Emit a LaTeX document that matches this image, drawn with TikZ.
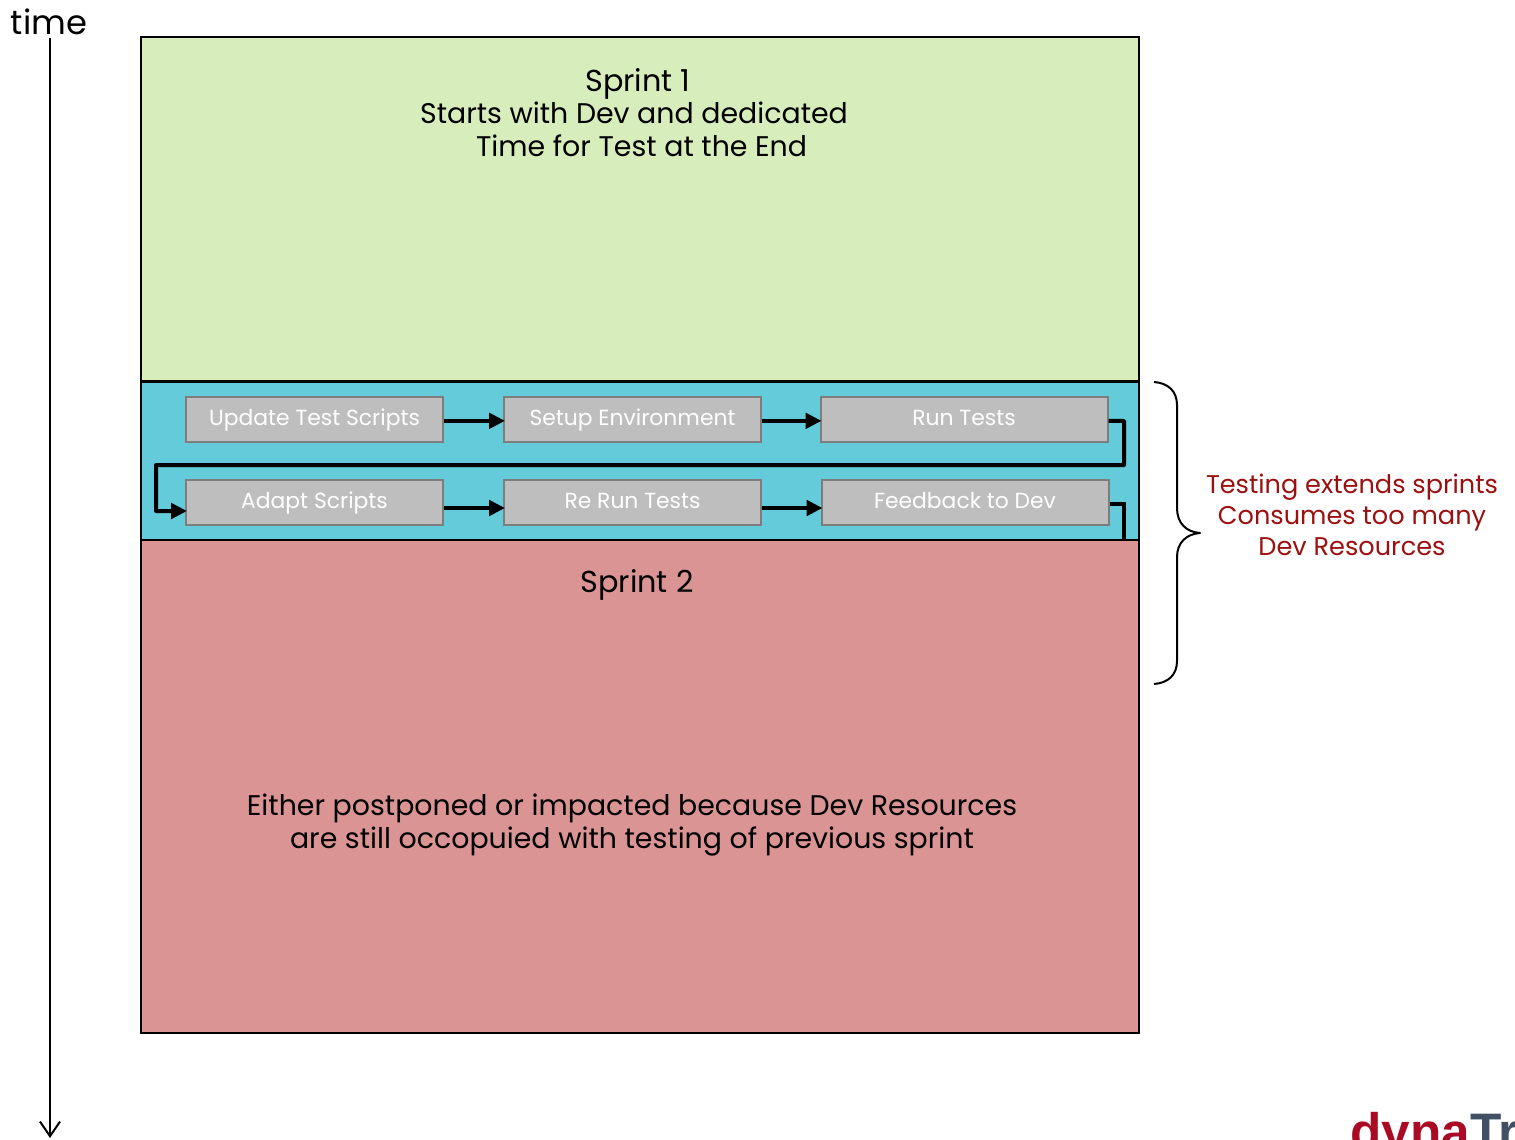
\documentclass[tikz,border=0pt]{standalone}
\usepackage{fontspec}
\setmainfont{Poppins}
\newfontfamily\logofont{Liberation Sans}
\usetikzlibrary{arrows.meta}
\definecolor{sprintgreen}{RGB}{215,238,188}
\definecolor{sprintred}{RGB}{218,148,148}
\definecolor{testblue}{RGB}{99,203,217}
\definecolor{stepgrey}{RGB}{190,190,190}
\definecolor{stepedge}{RGB}{125,125,125}
\definecolor{notered}{RGB}{155,16,16}
\definecolor{logored}{RGB}{170,10,35}
\definecolor{logoslate}{RGB}{65,80,100}
\tikzset{
  sprintbox/.style={draw=black,line width=1.5pt,inner sep=0pt,anchor=north west},
  stepbox/.style={draw=stepedge,line width=1.5pt,fill=stepgrey,text=white,inner sep=0pt,
    minimum height=33.75pt,text height=12.5pt,text depth=3.5pt,font=\fontsize{16.4}{18}\selectfont},
  flow/.style={line width=3pt,shorten >=-1.5pt,-{Triangle[length=12pt,width=11.5pt]}},
  flowend/.style={line width=3pt},
  sprinttext/.style={align=center,inner sep=0pt,font=\fontsize{21.3}{24.75}\selectfont},
  titletext/.style={inner sep=0pt,font=\fontsize{22.7}{24.75}\selectfont},
}
\begin{document}
\begin{tikzpicture}[x=0.75pt,y=0.75pt,yscale=-1,xscale=1]
\useasboundingbox (0,0) rectangle (1515,1139);
\clip (0,0) rectangle (1515,1139);

% Sprint areas
\node (sprint1) [sprintbox,fill=sprintgreen,minimum width=748.5pt,minimum height=258pt] at (140,36) {};
\node (sprint2) [sprintbox,fill=sprintred,minimum width=748.5pt,minimum height=369.75pt] at (140,539) {};
\node (testing) [sprintbox,fill=testblue,minimum width=748.5pt,minimum height=118.5pt] at (140,381) {};

% Text Node
\node (sprint1title) [titletext] at (638,84) {Sprint 1};
\node (sprint1text) [sprinttext] at (634,129) {Starts with Dev and dedicated\\\ \ Time for Test at the End};
\node (sprint2title) [titletext] at (637,585) {Sprint 2};
\node (sprint2text) [sprinttext] at (632,825) {Either postponed or impacted because Dev Resources\\are still occopuied with testing of previous sprint};

% Steps
\node (update) [stepbox,minimum width=192.75pt] at (314.5,419.5) {Update Test Scripts};
\node (setup) [stepbox,minimum width=192.75pt] at (632.5,419.5) {Setup Environment};
\node (run) [stepbox,minimum width=215.25pt] at (964,419.5) {Run Tests};
\node (adapt) [stepbox,minimum width=192.75pt] at (314.5,502) {Adapt Scripts};
\node (rerun) [stepbox,minimum width=192.75pt] at (632.5,502) {Re Run Tests};
\node (feedback) [stepbox,minimum width=215.25pt] at (965,502) {Feedback to Dev};

% Connectors
\draw [flow] ([yshift=1pt]update.east) -- ([yshift=1pt]setup.west);
\draw [flow] ([yshift=1pt]setup.east) -- ([yshift=1pt]run.west);
\draw [flow] ([yshift=4.5pt]adapt.east) -- ([yshift=4.5pt]rerun.west);
\draw [flow] ([yshift=4.5pt]rerun.east) -- ([yshift=4.5pt]feedback.west);
\draw [flow,line join=round] ([yshift=1pt]run.east) -- (1124,421) -- (1124,465) -- (156,465) -- (156,511) -- ([yshift=6.75pt]adapt.west);
\draw [flowend] ([yshift=1.5pt]feedback.east) -- (1124,504) -- (testing.south -| 1124,0);

% Time axis
\node (time) [inner sep=0pt,font=\fontsize{25.3}{27}\selectfont] at (49,22) {time};
\coordinate (timeend) at (50,1138);
\draw [line width=1.5pt,-{Straight Barb[length=11pt,width=15pt]}] (50,38) -- (timeend);

% Brace
\draw [line width=1.5pt,line join=round] (1154,382) .. controls (1168,383) and (1177,391) .. (1177,405) -- (1177,508) .. controls (1177,523) and (1186,532) .. (1200,533) .. controls (1186,534) and (1177,543) .. (1177,557) -- (1177,661) .. controls (1177,675) and (1168,683) .. (1154,684);
\node (note) [align=center,inner sep=0pt,text=notered,font=\fontsize{19.2}{23.25}\selectfont] at (1352,515) {Testing extends sprints\\Consumes too many\hspace{4pt}\\Dev Resources};

% Logo
\node (logo) [anchor=base west,inner sep=0pt,font=\logofont\bfseries\fontsize{38.5}{38.5}\selectfont] at (1350,1149) {\textcolor{logored}{dyna}\textcolor{logoslate}{Tr}};
\end{tikzpicture}
\end{document}
